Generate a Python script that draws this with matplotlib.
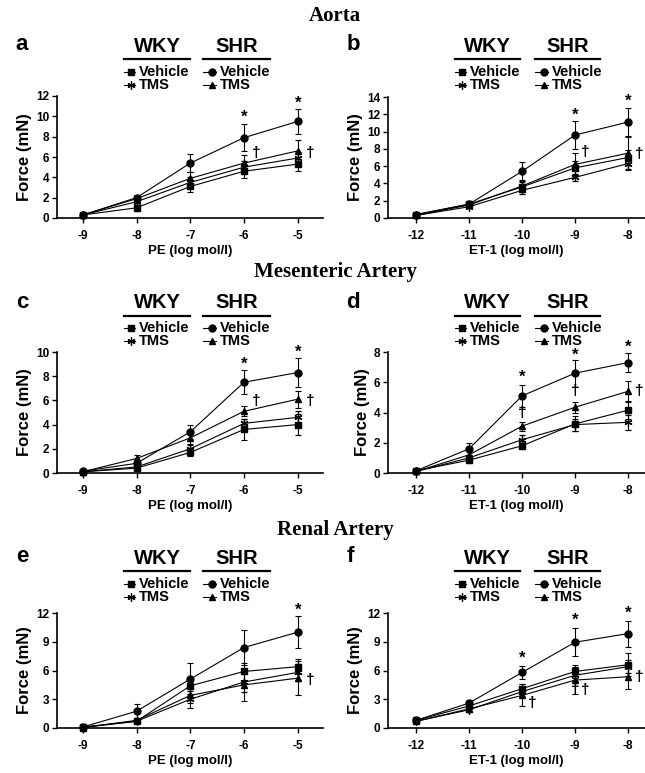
import matplotlib
matplotlib.use("Agg")
import matplotlib.pyplot as plt
from matplotlib.lines import Line2D

plt.rcParams['font.family'] = ['Liberation Sans', 'DejaVu Sans']
plt.rcParams['font.weight'] = 'bold'

W, H = 645, 773

# ---------------- data ----------------
x_pe = [-9, -8, -7, -6, -5]
x_et = [-12, -11, -10, -9, -8]

# panel a: Aorta, PE
a_shr_veh = [0.3, 2.0, 5.4, 7.9, 9.5]
a_shr_veh_err = [0.1, 0.3, 0.9, 1.3, 1.2]
a_shr_tms = [0.3, 1.9, 3.9, 5.4, 6.6]
a_shr_tms_err = [0.1, 0.3, 0.6, 0.8, 1.1]
a_wky_tms = [0.3, 1.6, 3.5, 5.0, 5.9]
a_wky_tms_err = [0.1, 0.3, 0.5, 0.6, 0.6]
a_wky_veh = [0.3, 1.0, 3.1, 4.6, 5.3]
a_wky_veh_err = [0.1, 0.3, 0.5, 0.7, 0.7]

# panel b: Aorta, ET-1
b_shr_veh = [0.4, 1.6, 5.4, 9.6, 11.1]
b_shr_veh_err = [0.1, 0.2, 1.1, 1.6, 1.6]
b_shr_tms = [0.3, 1.5, 3.7, 6.2, 7.5]
b_shr_tms_err = [0.1, 0.2, 0.7, 1.3, 1.9]
b_wky_veh = [0.4, 1.6, 3.6, 5.8, 7.0]
b_wky_veh_err = [0.1, 0.2, 0.6, 0.8, 0.9]
b_wky_tms = [0.3, 1.3, 3.2, 4.7, 6.3]
b_wky_tms_err = [0.1, 0.2, 0.4, 0.4, 0.6]

# panel c: Mesenteric, PE
c_shr_veh = [0.15, 0.8, 3.4, 7.5, 8.3]
c_shr_veh_err = [0.1, 0.3, 0.6, 1.0, 1.2]
c_shr_tms = [0.1, 1.2, 2.9, 5.1, 6.1]
c_shr_tms_err = [0.1, 0.3, 0.5, 0.4, 0.7]
c_wky_tms = [0.1, 0.5, 2.0, 4.1, 4.6]
c_wky_tms_err = [0.1, 0.2, 0.3, 0.4, 0.5]
c_wky_veh = [0.1, 0.4, 1.7, 3.6, 4.0]
c_wky_veh_err = [0.1, 0.2, 0.3, 0.9, 0.9]

# panel d: Mesenteric, ET-1
d_shr_veh = [0.15, 1.6, 5.1, 6.6, 7.3]
d_shr_veh_err = [0.1, 0.4, 0.75, 0.9, 0.65]
d_shr_tms = [0.1, 1.2, 3.1, 4.35, 5.4]
d_shr_tms_err = [0.1, 0.3, 0.3, 0.35, 0.7]
d_wky_veh = [0.15, 0.85, 1.8, 3.25, 4.15]
d_wky_veh_err = [0.1, 0.2, 0.2, 0.5, 0.6]
d_wky_tms = [0.1, 1.0, 2.2, 3.2, 3.35]
d_wky_tms_err = [0.1, 0.2, 0.3, 0.4, 0.5]

# panel e: Renal, PE
e_shr_veh = [0.1, 1.75, 5.1, 8.4, 10.0]
e_shr_veh_err = [0.1, 0.75, 1.7, 1.8, 1.7]
e_wky_veh = [0.1, 0.7, 4.4, 5.9, 6.4]
e_wky_veh_err = [0.1, 0.2, 0.8, 0.9, 0.8]
e_wky_tms = [0.05, 0.7, 3.0, 4.8, 5.8]
e_wky_tms_err = [0.1, 0.2, 0.9, 1.0, 0.9]
e_shr_tms = [0.05, 0.8, 3.4, 4.5, 5.2]
e_shr_tms_err = [0.1, 0.2, 0.8, 1.7, 1.8]

# panel f: Renal, ET-1
f_shr_veh = [0.8, 2.6, 5.8, 8.95, 9.85]
f_shr_veh_err = [0.1, 0.3, 0.7, 1.45, 1.35]
f_wky_veh = [0.8, 2.3, 4.1, 5.9, 6.6]
f_wky_veh_err = [0.1, 0.3, 0.5, 0.7, 1.2]
f_wky_tms = [0.7, 1.9, 3.8, 5.5, 6.4]
f_wky_tms_err = [0.1, 0.2, 0.5, 0.6, 0.7]
f_shr_tms = [0.7, 2.0, 3.4, 5.0, 5.35]
f_shr_tms_err = [0.1, 0.3, 1.15, 1.4, 1.3]

# significance marks (x, y)
a_stars = [(-6, 9.9), (-5, 11.3)]
a_daggers = [(-5.78, 6.4), (-4.76, 6.4)]
b_stars = [(-9, 11.9), (-8, 13.5)]
b_daggers = [(-8.8, 7.6), (-7.78, 7.4)]
c_stars = [(-6, 9.0), (-5, 10.0)]
c_daggers = [(-5.78, 5.95), (-4.76, 5.95)]
d_stars = [(-10, 6.3), (-9, 7.8), (-8, 8.3)]
d_daggers = [(-10, 4.0), (-9, 5.4), (-7.78, 5.4)]
e_stars = [(-5, 12.3)]
e_daggers = [(-4.76, 5.0)]
f_stars = [(-10, 7.3), (-9, 11.2), (-8, 12.0)]
f_daggers = [(-9.8, 2.6), (-9.0, 3.95), (-8.8, 3.95), (-7.78, 5.3)]

section_titles = ["Aorta", "Mesenteric Artery", "Renal Artery"]

# ---------------- figure ----------------
fig = plt.figure(figsize=(W / 100, H / 100), dpi=100)


def fx(px):
    return px / W


def fy(py):
    return 1 - py / H


MK = {
    'wky_veh': dict(marker='s', ms=4.4, mfc='black', mec='black'),
    'wky_tms': dict(marker=(6, 2, 0), ms=5.8, mfc='black', mec='black', mew=0.9),
    'shr_veh': dict(marker='o', ms=5.0, mfc='black', mec='black'),
    'shr_tms': dict(marker='^', ms=5.0, mfc='black', mec='black'),
}


def panel(rect_px, xs, series, ylim, yticks, xlim, xlabel, stars, daggers):
    l, r, t, b = rect_px
    ax = fig.add_axes([fx(l), fy(b), fx(r - l), (b - t) / H])
    for key, ys, es in series:
        ax.errorbar(xs, ys, yerr=es, color='black', lw=0.8, elinewidth=0.8,
                    capsize=2.0, capthick=0.8, clip_on=False, zorder=3, **MK[key])
    ax.set_xlim(*xlim)
    ax.set_ylim(*ylim)
    ax.set_xticks(xs)
    ax.set_xticklabels([str(v) for v in xs])
    ax.set_yticks(yticks)
    ax.set_yticklabels([str(v) for v in yticks])
    for s in ['top', 'right']:
        ax.spines[s].set_visible(False)
    for s in ['left', 'bottom']:
        ax.spines[s].set_linewidth(1.2)
    ax.tick_params(direction='out', length=3.5, width=1.0, labelsize=8.5, pad=2)
    ax.tick_params(axis='x', pad=5)
    for lab in ax.get_xticklabels() + ax.get_yticklabels():
        lab.set_fontweight('bold')
    ax.set_xlabel(xlabel, fontsize=9.5, fontweight='bold', labelpad=2)
    ax.set_ylabel('Force (mN)', fontsize=12, fontweight='bold', labelpad=3)
    for (sx, sy) in stars:
        ax.text(sx, sy, '*', ha='center', va='center', fontsize=12, fontweight='bold',
                clip_on=False)
    for (dx, dy) in daggers:
        ax.text(dx, dy, '\u2020', ha='center', va='center', fontsize=11, fontweight='bold',
                clip_on=False)
    return ax


def legend_block(letter, letter_x, letter_y, wky_l, wky_r, shr_l, shr_r, y_head, y_line, y_r1, y_r2):
    fig.text(fx(letter_x), fy(letter_y), letter, fontsize=16, fontweight='bold',
             ha='center', va='center')
    fig.text(fx((wky_l + wky_r) / 2), fy(y_head), 'WKY', fontsize=14.5, fontweight='bold',
             ha='center', va='center')
    fig.text(fx((shr_l + shr_r) / 2), fy(y_head), 'SHR', fontsize=14.5, fontweight='bold',
             ha='center', va='center')
    fig.add_artist(Line2D([fx(wky_l), fx(wky_r)], [fy(y_line), fy(y_line)], color='black',
                          lw=1.6, transform=fig.transFigure))
    fig.add_artist(Line2D([fx(shr_l), fx(shr_r)], [fy(y_line), fy(y_line)], color='black',
                          lw=1.6, transform=fig.transFigure))
    entries = [
        (wky_l, y_r1, 'wky_veh', 'Vehicle', 11),
        (wky_l, y_r2, 'wky_tms', 'TMS', 11),
        (shr_l, y_r1, 'shr_veh', 'Vehicle', 13),
        (shr_l, y_r2, 'shr_tms', 'TMS', 13),
    ]
    for x0, yy, key, lab, ln in entries:
        fig.add_artist(Line2D([fx(x0), fx(x0 + ln)], [fy(yy), fy(yy)], color='black', lw=0.8,
                              transform=fig.transFigure))
        fig.add_artist(Line2D([fx(x0 + ln - 4)], [fy(yy)], color='black', lw=0,
                              transform=fig.transFigure, **MK[key]))
        fig.text(fx(x0 + ln + 4), fy(yy), lab, fontsize=10.5, fontweight='bold',
                 ha='left', va='center')


xlim_pe = (-9.48, -4.53)
xlim_et = (-12.53, -7.68)

# row 1
fig.text(fx(335), fy(16), section_titles[0], family=['Liberation Serif', 'DejaVu Serif'],
         fontsize=15, fontweight='bold', ha='center', va='center')
panel((57, 323, 96, 218), x_pe,
      [('wky_veh', a_wky_veh, a_wky_veh_err), ('wky_tms', a_wky_tms, a_wky_tms_err),
       ('shr_tms', a_shr_tms, a_shr_tms_err), ('shr_veh', a_shr_veh, a_shr_veh_err)],
      (0, 12), [0, 2, 4, 6, 8, 10, 12], xlim_pe, 'PE (log mol/l)', a_stars, a_daggers)
panel((388, 645, 97, 218), x_et,
      [('wky_veh', b_wky_veh, b_wky_veh_err), ('wky_tms', b_wky_tms, b_wky_tms_err),
       ('shr_tms', b_shr_tms, b_shr_tms_err), ('shr_veh', b_shr_veh, b_shr_veh_err)],
      (0, 14), [0, 2, 4, 6, 8, 10, 12, 14], xlim_et, 'ET-1 (log mol/l)', b_stars, b_daggers)
legend_block('a', 22, 45, 124, 190, 203, 270, 47, 59, 72, 85)
legend_block('b', 353, 45, 455, 520, 535, 600, 47, 59, 72, 85)

# row 2
fig.text(fx(335), fy(272), section_titles[1], family=['Liberation Serif', 'DejaVu Serif'],
         fontsize=15, fontweight='bold', ha='center', va='center')
panel((57, 323, 352, 473), x_pe,
      [('wky_veh', c_wky_veh, c_wky_veh_err), ('wky_tms', c_wky_tms, c_wky_tms_err),
       ('shr_tms', c_shr_tms, c_shr_tms_err), ('shr_veh', c_shr_veh, c_shr_veh_err)],
      (0, 10), [0, 2, 4, 6, 8, 10], xlim_pe, 'PE (log mol/l)', c_stars, c_daggers)
panel((388, 645, 352, 473), x_et,
      [('wky_veh', d_wky_veh, d_wky_veh_err), ('wky_tms', d_wky_tms, d_wky_tms_err),
       ('shr_tms', d_shr_tms, d_shr_tms_err), ('shr_veh', d_shr_veh, d_shr_veh_err)],
      (0, 8), [0, 2, 4, 6, 8], xlim_et, 'ET-1 (log mol/l)', d_stars, d_daggers)
legend_block('c', 22, 302, 124, 190, 203, 270, 303, 316, 328, 341)
legend_block('d', 353, 302, 455, 520, 535, 600, 303, 316, 328, 341)

# row 3
fig.text(fx(335), fy(530), section_titles[2], family=['Liberation Serif', 'DejaVu Serif'],
         fontsize=15, fontweight='bold', ha='center', va='center')
panel((57, 323, 613, 728), x_pe,
      [('wky_veh', e_wky_veh, e_wky_veh_err), ('wky_tms', e_wky_tms, e_wky_tms_err),
       ('shr_tms', e_shr_tms, e_shr_tms_err), ('shr_veh', e_shr_veh, e_shr_veh_err)],
      (0, 12), [0, 3, 6, 9, 12], xlim_pe, 'PE (log mol/l)', e_stars, e_daggers)
panel((388, 645, 613, 728), x_et,
      [('wky_veh', f_wky_veh, f_wky_veh_err), ('wky_tms', f_wky_tms, f_wky_tms_err),
       ('shr_tms', f_shr_tms, f_shr_tms_err), ('shr_veh', f_shr_veh, f_shr_veh_err)],
      (0, 12), [0, 3, 6, 9, 12], xlim_et, 'ET-1 (log mol/l)', f_stars, f_daggers)
legend_block('e', 22, 557, 124, 190, 203, 270, 558, 571, 584, 597)
legend_block('f', 350, 557, 455, 520, 535, 600, 558, 571, 584, 597)

fig.savefig('out.png', dpi=100, facecolor='white')
